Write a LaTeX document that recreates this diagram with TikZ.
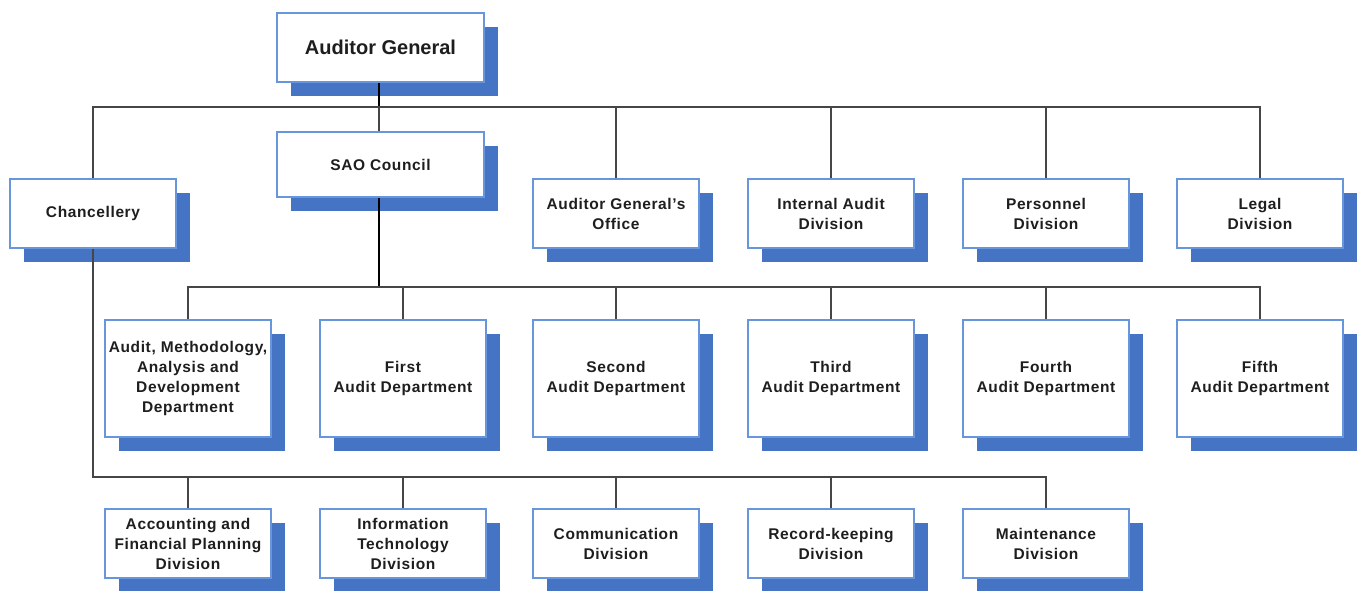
\documentclass[tikz,border=0pt]{standalone}
\usepackage{fontspec}
\setmainfont{Liberation Sans}
\usetikzlibrary{shadows}
\definecolor{boxblue}{RGB}{104,150,220}
\definecolor{shadowblue}{RGB}{70,116,196}
\definecolor{linegray}{RGB}{70,70,70}
\definecolor{textgray}{RGB}{30,30,30}
\tikzset{
  orgbox/.style={draw=boxblue, line width=1.6pt, fill=white, inner sep=0pt,
    minimum width=166pt, minimum height=69pt, align=center, text=textgray,
    font=\fontsize{15.5}{20}\selectfont\bfseries\addfontfeature{LetterSpace=4},
    drop shadow={shadow xshift=14pt, shadow yshift=-14pt, fill=shadowblue, opacity=1}},
  tallbox/.style={orgbox, minimum height=117pt},
  link/.style={draw=linegray, line width=1.3pt},
  mainlink/.style={draw=black, line width=2.2pt}
}
\begin{document}
\begin{tikzpicture}[x=1pt,y=-1pt]
\useasboundingbox (0,0) rectangle (1358,590);
% top
\node[orgbox, minimum width=207pt, font=\fontsize{20}{24}\selectfont\bfseries] (ag) at (380.5,47.5) {Auditor General};
\node[orgbox, minimum width=207pt, minimum height=65pt] (sao) at (380.5,164.5) {SAO Council};
% row 1
\node[orgbox] (chan) at (93,213.5) {Chancellery};
\node[orgbox] (agoff) at (616,213.5) {Auditor General's\\Office};
\node[orgbox] (iad) at (831,213.5) {Internal Audit\\Division};
\node[orgbox] (pers) at (1046,213.5) {Personnel\\Division};
\node[orgbox] (legal) at (1260,213.5) {Legal\\Division};
% row 2
\node[tallbox] (amd) at (188,378.5) {Audit, Methodology,\\Analysis and\\Development\\Department};
\node[tallbox] (first) at (403,378.5) {First\\Audit Department};
\node[tallbox] (second) at (616,378.5) {Second\\Audit Department};
\node[tallbox] (third) at (831,378.5) {Third\\Audit Department};
\node[tallbox] (fourth) at (1046,378.5) {Fourth\\Audit Department};
\node[tallbox] (fifth) at (1260,378.5) {Fifth\\Audit Department};
% row 3
\node[orgbox] (acc) at (188,543.5) {Accounting and\\Financial Planning\\Division};
\node[orgbox] (it) at (403,543.5) {Information\\Technology\\Division};
\node[orgbox] (comm) at (616,543.5) {Communication\\Division};
\node[orgbox] (rec) at (831,543.5) {Record-keeping\\Division};
\node[orgbox] (maint) at (1046,543.5) {Maintenance\\Division};
% bars
\coordinate (bar1) at (379,107);
\coordinate (bar2) at (379,287);
\coordinate (bar3) at (93,477);
% connectors level 1
\draw[mainlink] (ag.south -| bar1) -- (bar1);
\draw[link] (bar1) -- (sao.north -| bar1);
\draw[link] (chan.north) |- (bar1) -| (legal.north);
\draw[link] (agoff.north) -- (agoff.north |- bar1);
\draw[link] (iad.north) -- (iad.north |- bar1);
\draw[link] (pers.north) -- (pers.north |- bar1);
% connectors level 2
\draw[mainlink] (sao.south -| bar2) -- (bar2);
\draw[link] (amd.north) |- (bar2) -| (fifth.north);
\draw[link] (first.north) -- (first.north |- bar2);
\draw[link] (second.north) -- (second.north |- bar2);
\draw[link] (third.north) -- (third.north |- bar2);
\draw[link] (fourth.north) -- (fourth.north |- bar2);
% connectors level 3
\draw[link] (chan.south) -- (bar3) -| (maint.north);
\draw[link] (acc.north) -- (acc.north |- bar3);
\draw[link] (it.north) -- (it.north |- bar3);
\draw[link] (comm.north) -- (comm.north |- bar3);
\draw[link] (rec.north) -- (rec.north |- bar3);
\end{tikzpicture}
\end{document}
